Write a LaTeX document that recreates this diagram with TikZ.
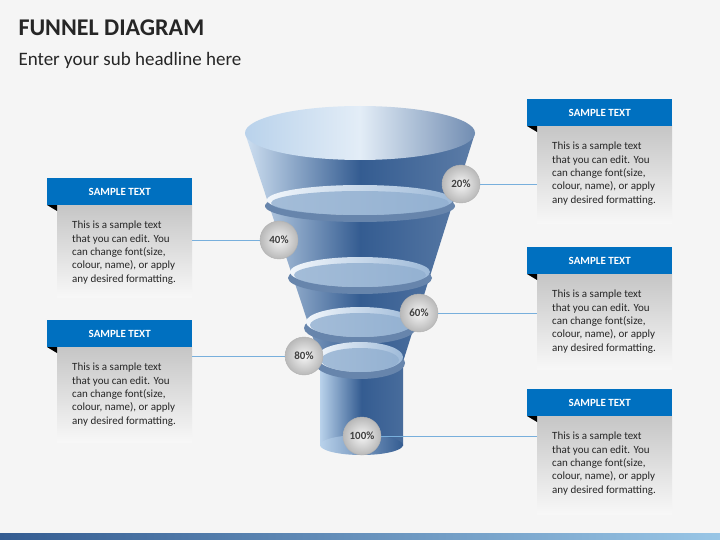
\documentclass[tikz,border=0pt]{standalone}
\usepackage{fontspec}
\setmainfont{Carlito}
\usetikzlibrary{positioning}
\definecolor{hdrblue}{RGB}{0,112,192}
\definecolor{fundark}{RGB}{52,92,145}
\definecolor{funlight}{RGB}{185,210,235}
\definecolor{lnblue}{RGB}{120,175,220}
\tikzset{
  header/.style={fill=hdrblue, text=white, font=\bfseries\fontsize{11}{13}\selectfont,
    minimum width=145pt, minimum height=27pt, inner sep=0pt},
  bodytext/.style={align=left, font=\fontsize{11}{13.3}\selectfont, text=black!85,
    inner sep=0pt, anchor=north west},
  pct/.style={circle, minimum size=38pt, inner sep=0pt, draw=gray!60,
    inner color=gray!8, outer color=gray!55, font=\bfseries\fontsize{11}{13}\selectfont, text=black!75},
  link/.style={draw=lnblue, line width=0.8pt}
}
\def\sample{This is a sample text\\that you can edit. You\\can change font(size,\\colour, name), or apply\\any desired formatting.}
% one text panel: #1 name, #2 left x, #3 top y, #4 body height
\newcommand\panel[4]{%
  \shade[top color=gray!45, bottom color=gray!6] (#2+10,#3+27) rectangle (#2+145,#3+27+#4);
  \fill[black] (#2,#3+27) -- (#2+10,#3+27) -- (#2+10,#3+33) -- cycle;
  \node[header, anchor=north west] (#1) at (#2,#3) {SAMPLE TEXT};
  \node[bodytext] (#1t) at (#2+25,#3+43) {\sample};
}
\begin{document}
\begin{tikzpicture}[x=1pt,y=-1pt]
\useasboundingbox (0,0) rectangle (720,540);
\fill[gray!8] (0,0) rectangle (720,540);
\shade[left color=fundark, right color=hdrblue!40] (0,533) rectangle (720,540);
\node[anchor=west, font=\bfseries\fontsize{24}{28}\selectfont, text=black!85] (title) at (15,28) {FUNNEL DIAGRAM};
\node[anchor=west, font=\fontsize{19}{23}\selectfont, text=black!85] (sub) at (15,60) {Enter your sub headline here};
% panels
\panel{pa}{527}{99}{98}
\panel{pb}{47}{178}{92}
\panel{pc}{527}{247}{95}
\panel{pd}{47}{320}{95}
\panel{pe}{527}{389}{98}
% funnel
\shade[left color=funlight, right color=fundark!90, middle color=fundark]
  (320,365) rectangle (403,445);
\shade[left color=funlight, right color=fundark] (320,445) arc (180:360:41.5 and 10) -- (403,445) arc (0:180:41.5 and 10);
\shade[left color=funlight!70, right color=fundark!80, middle color=fundark]
  (245,133) -- (475,133) -- (402,365) -- (322,365) -- cycle;
\foreach \yy/\rx in {200/93, 272/70, 322/54, 357/43}{
  \fill[fundark!75] (360,\yy+6) ellipse ({\rx+2} and 16);
  \shade[left color=white!80!funlight, right color=funlight!80!fundark] (360,\yy) ellipse ({\rx} and 15);
  \fill[funlight!70!fundark, opacity=0.8] (360,\yy+3) ellipse ({\rx-4} and 12);
}
\shade[left color=funlight, right color=fundark!70, middle color=white!60!funlight]
  (360,133) ellipse (115 and 27);
% percentages
\node[pct] (p20) at (461,184) {20\%};
\node[pct] (p40) at (279,240) {40\%};
\node[pct] (p60) at (419,313) {60\%};
\node[pct] (p80) at (304,356) {80\%};
\node[pct] (p100) at (362,436) {100\%};
\coordinate (c20) at (537,184);
\coordinate (c40) at (192,240);
\coordinate (c60) at (537,313);
\coordinate (c80) at (192,356);
\coordinate (c100) at (537,436);
\draw[link] (p20) -- (c20);
\draw[link] (p40) -- (c40);
\draw[link] (p60) -- (c60);
\draw[link] (p80) -- (c80);
\draw[link] (p100) -- (c100);
\end{tikzpicture}
\end{document}
